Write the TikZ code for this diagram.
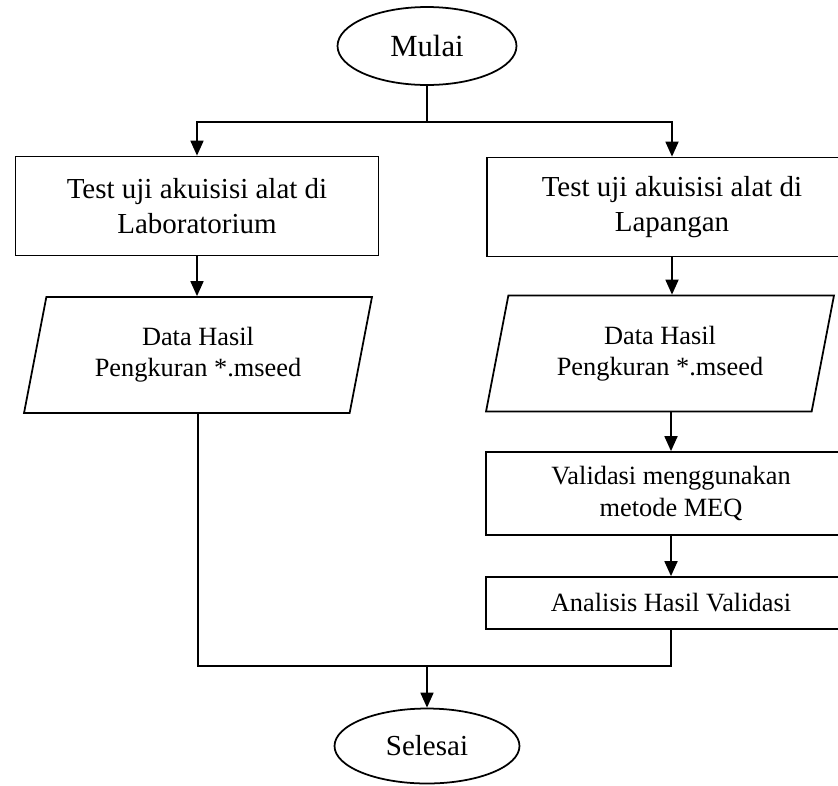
\documentclass[tikz,border=0pt]{standalone}
\usepackage{fontspec}
\setmainfont{Liberation Serif}
\usetikzlibrary{arrows.meta}
\usetikzlibrary{shapes.geometric}

\begin{document}
\begin{tikzpicture}[x=0.02cm,y=-0.02cm,line width=1pt,
		bigfont/.style={font=\fontsize{16.5pt}{19.9pt}\selectfont},
		smallfont/.style={font=\fontsize{15pt}{17.8pt}\selectfont},
		terminal/.style={draw,ellipse,bigfont,inner sep=0pt},
		process/.style={draw,rectangle,align=center,inner sep=0pt},
		data/.style={draw,trapezium,trapezium left angle=68,trapezium right angle=112,
			trapezium stretches body,align=center,inner sep=0pt,smallfont,
			minimum width=6.96cm,minimum height=2.32cm},
		arr/.style={-{Triangle[length=0.3cm,width=0.26cm]}}]
					\clip (0,0) rectangle (838,785);
					\node[terminal,minimum width=3.58cm,minimum height=1.56cm] (mulai) at (427,46) {\fontsize{17.5pt}{20pt}\selectfont Mulai};
					\coordinate (split) at (427,122);
					\node[process,bigfont,minimum width=7.26cm,minimum height=1.98cm] (lab) at (197,206) {Test uji akuisisi alat di\\Laboratorium};
					\node[process,bigfont,minimum width=7.4cm,minimum height=1.98cm] (lap) at (672,207) {Test uji akuisisi alat di\\Lapangan};
					\node[data] (dlab) at (198,355) {Data Hasil\\Pengkuran *.mseed};
					\node[data] (dlap) at (660,353.5) {Data Hasil\\Pengkuran *.mseed};
					\node[process,smallfont,minimum width=7.4cm,minimum height=1.66cm] (valid) at (671,493.5) {Validasi menggunakan\\metode MEQ};
					\node[process,smallfont,minimum width=7.4cm,minimum height=1.04cm] (anls) at (671,603) {Analisis Hasil Validasi};
					\coordinate (join) at (427,666);
					\node[terminal,minimum width=3.7cm,minimum height=1.5cm] (selesai) at (427,746) {Selesai};
					\draw (mulai) -- (split);
					\draw[arr] (split) -| (lab);
					\draw[arr] (split) -| (lap);
					\draw[arr] (lab.south) -- (lab.south |- dlab.north);
					\draw[arr] (lap.south) -- (lap.south |- dlap.north);
					\draw[arr] (valid.north |- dlap.south) -- (valid);
					\draw[arr] (valid) -- (anls);
					\draw (anls) |- (join);
					\draw (dlab) |- (join);
					\draw[arr] (join) -- (selesai);
				\end{tikzpicture}
\end{document}
